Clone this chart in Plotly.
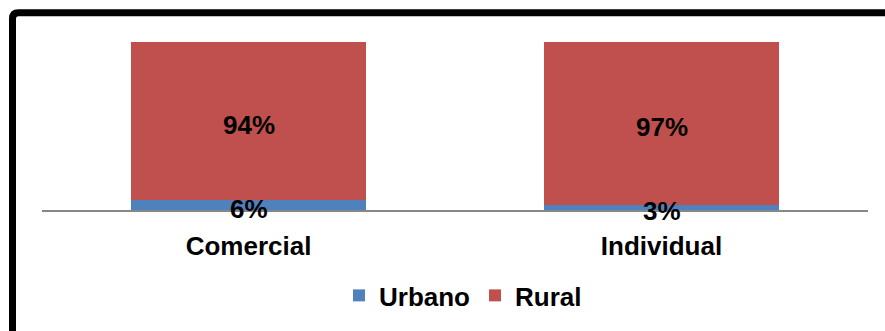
import plotly.graph_objects as go

# Share of each sector by area
categories = ["Comercial", "Individual"]
urbano = [0.06, 0.03]
rural = [0.94, 0.97]

FONT = "Liberation Sans, Arial, sans-serif"
W, H = 885, 331
ML, MR, MT, MB = 42, 17, 42, 118
LABEL_FONT = dict(family=FONT, size=26, color="black", weight="bold")

fig = go.Figure()
fig.add_trace(go.Bar(
    x=categories, y=urbano, name="Urbano",
    marker=dict(color="#4F81BD", line=dict(width=0)),
))
fig.add_trace(go.Bar(
    x=categories, y=rural, name="Rural",
    marker=dict(color="#C0504D", line=dict(width=0)),
))

# Value labels centred on each stacked segment, drawn above all bars
annotations = []
for cat, u, r in zip(categories, urbano, rural):
    for y, v in ((u / 2, u), (u + r / 2, r)):
        annotations.append(dict(
            x=cat, y=y, xref="x", yref="y", text=f"{v:.0%}",
            showarrow=False, xanchor="center", yanchor="middle",
            yshift=-4, font=LABEL_FONT,
        ))

pw = W - ML - MR
ph = H - MT - MB


def px_x(v):
    return (v - ML) / pw


def px_y(v):
    return (H - MB - v) / ph


# Thick frame with a rounded corner along the left and top edges
x0, y0, rad = px_x(12.5), px_y(12.2), 6
path = (
    f"M{px_x(12.5)},{px_y(400)} L{x0},{px_y(12.2 + rad)} "
    f"Q{x0},{y0} {px_x(12.5 + rad)},{y0} L{px_x(900)},{y0}"
)

fig.update_layout(
    width=W, height=H,
    margin=dict(l=ML, r=MR, t=MT, b=MB),
    barmode="stack",
    bargap=0.43,
    plot_bgcolor="white", paper_bgcolor="white",
    font=dict(family=FONT, color="black"),
    showlegend=True,
    legend=dict(
        orientation="h", x=px_x(463), xanchor="center", y=px_y(300), yanchor="middle",
        font=LABEL_FONT, itemclick=False, traceorder="normal",
    ),
    xaxis=dict(
        showline=True, linecolor="#878787", linewidth=1.5,
        showgrid=False, ticks="", ticklabelstandoff=12,
        tickfont=LABEL_FONT,
    ),
    yaxis=dict(range=[0, 1], visible=False, showgrid=False),
    annotations=annotations,
    shapes=[dict(
        type="path", path=path, xref="paper", yref="paper",
        line=dict(color="black", width=7), layer="above",
    )],
)

fig.write_html("out.html")
